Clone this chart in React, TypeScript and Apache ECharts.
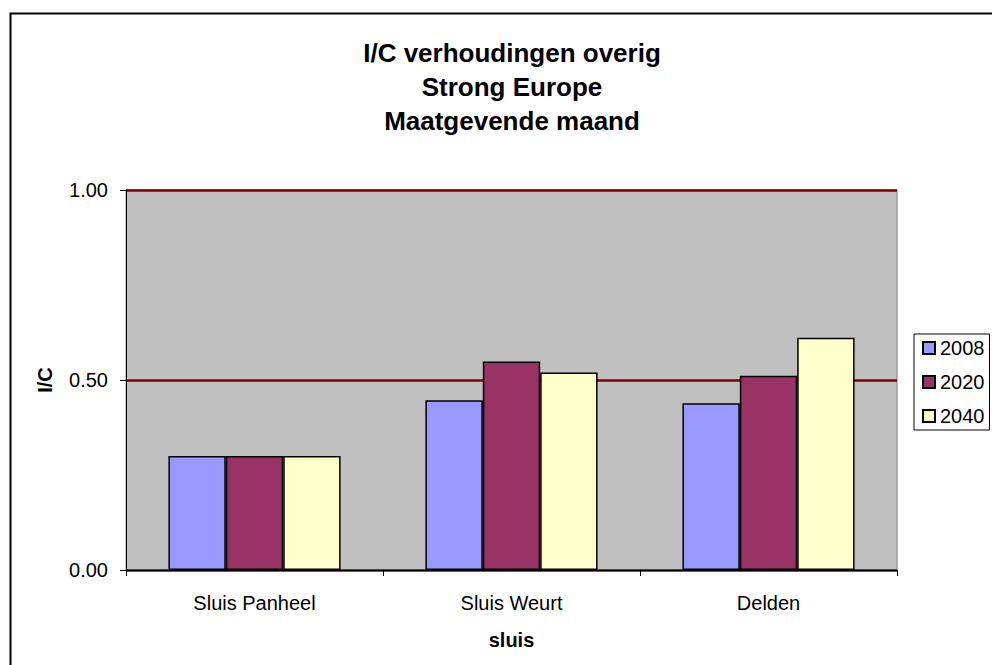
import React, { useEffect, useRef } from "react";
import * as echarts from "echarts";

const categories = ["Sluis Panheel", "Sluis Weurt", "Delden"];
const years = ["2008", "2020", "2040"];
const values2008 = [0.3, 0.447, 0.439];
const values2020 = [0.3, 0.549, 0.511];
const values2040 = [0.3, 0.52, 0.611];
const colors = ["#9999FF", "#993366", "#FFFFCC"];
const titleLines = ["I/C verhoudingen overig", "Strong Europe", "Maatgevende maand"];

export default function App() {
  const ref = useRef<HTMLDivElement>(null);
  useEffect(() => {
    const chart = echarts.init(ref.current!, null, { renderer: "svg" });
    const font = "Liberation Sans, Arial, sans-serif";
    const seriesData = [values2008, values2020, values2040];
    chart.setOption({
      animation: false,
      backgroundColor: "#ffffff",
      textStyle: { fontFamily: font },
      title: {
        text: titleLines.join("\n"),
        left: 507,
        top: 31,
        textAlign: "center",
        textStyle: { fontFamily: font, fontSize: 26, fontWeight: "bold", color: "#000", lineHeight: 34 },
      },
      graphic: [
        {
          type: "rect",
          shape: { x: 10.5, y: 13.5, width: 1000, height: 700 },
          style: { fill: "none", stroke: "#000", lineWidth: 2 },
          silent: true,
        },
      ],
      legend: {
        orient: "vertical",
        left: 914,
        top: 334,
        padding: [4, 5, 4, 8],
        itemGap: 14,
        itemWidth: 12,
        itemHeight: 12,
        icon: "rect",
        borderColor: "#000",
        borderWidth: 1,
        backgroundColor: "#fff",
        textStyle: { fontFamily: font, fontSize: 20, lineHeight: 20, color: "#000" },
        data: years,
      },
      grid: {
        left: 126,
        top: 190,
        width: 771,
        height: 380,
        show: true,
        backgroundColor: "#C0C0C0",
        borderColor: "#808080",
        borderWidth: 1,
      },
      xAxis: {
        type: "category",
        data: categories,
        name: "sluis",
        nameLocation: "middle",
        nameGap: 60,
        nameTextStyle: { fontFamily: font, fontSize: 20, fontWeight: "bold", color: "#000" },
        axisLine: { lineStyle: { color: "#000", width: 1 } },
        axisTick: { show: true, length: 6, lineStyle: { color: "#000" } },
        axisLabel: { fontFamily: font, fontSize: 20, color: "#000", margin: 23 },
      },
      yAxis: {
        type: "value",
        min: 0,
        max: 1,
        interval: 0.5,
        name: "I/C",
        nameLocation: "middle",
        nameGap: 71,
        nameTextStyle: { fontFamily: font, fontSize: 20, fontWeight: "bold", color: "#000" },
        axisLine: { show: true, lineStyle: { color: "#000", width: 1 } },
        axisTick: { show: true, length: 6, lineStyle: { color: "#000" } },
        axisLabel: { fontFamily: font, fontSize: 20, color: "#000", margin: 18, formatter: (v: number) => v.toFixed(2) },
        splitLine: { show: true, lineStyle: { color: "#800000", width: 2.5 } },
      },
      series: years.map((y, i) => ({
        name: y,
        type: "bar",
        data: seriesData[i],
        barGap: "0%",
        barCategoryGap: "33%",
        itemStyle: { color: colors[i], borderColor: "#000", borderWidth: 1.5 },
      })),
    });
    return () => chart.dispose();
  }, []);
  return (
    <div
      ref={ref}
      style={{ position: "absolute", left: 0, top: 0, width: 992, height: 665 }}
    />
  );
}
